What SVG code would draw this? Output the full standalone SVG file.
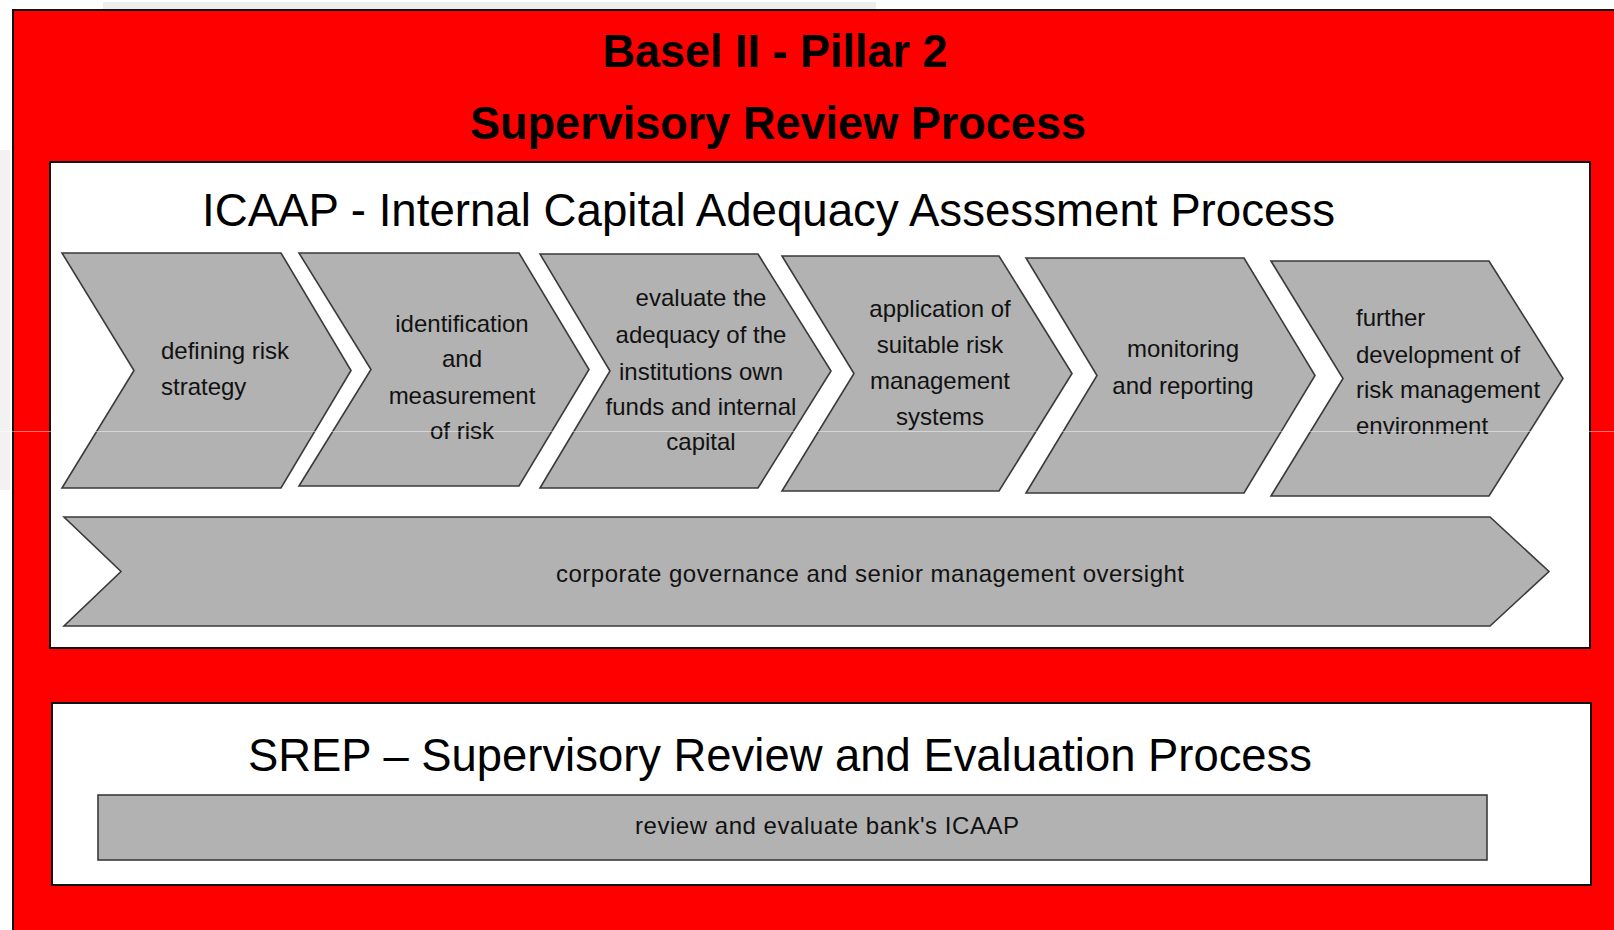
<svg xmlns="http://www.w3.org/2000/svg" width="1614" height="930" viewBox="0 0 1614 930">
<style>
.chev{fill:#b2b2b2;stroke:#3a3a3a;stroke-width:1.6;stroke-linejoin:miter}
.box{fill:#ffffff;stroke:#111;stroke-width:2}
.t{font-family:"Liberation Sans",Arial,sans-serif;font-size:24px;fill:#111}
.c{text-anchor:middle}
.big{font-family:"Liberation Sans",Arial,sans-serif;font-size:47px;fill:#000}
.ttl{font-family:"Liberation Sans",Arial,sans-serif;font-size:47px;font-weight:bold;fill:#000;text-anchor:middle}
</style>
<rect x="0" y="0" width="1614" height="930" fill="#ffffff"/>
<rect x="103" y="2" width="773" height="7" fill="#eeeeee"/>
<rect x="0" y="150" width="10" height="340" fill="#f2f2f2"/>
<g id="pillar2">
<rect x="13" y="10" width="1610" height="930" fill="#ff0000" stroke="#111" stroke-width="2"/>
<text class="ttl" x="775" y="67" textLength="345" lengthAdjust="spacingAndGlyphs">Basel II - Pillar 2</text>
<text class="ttl" x="778" y="139" textLength="616" lengthAdjust="spacingAndGlyphs">Supervisory Review Process</text>
</g>
<g id="icaap">
<rect class="box" x="50" y="162" width="1540" height="486"/>
<text class="big" x="202" y="226" textLength="1133" lengthAdjust="spacingAndGlyphs">ICAAP - Internal Capital Adequacy Assessment Process</text>
</g>
<g id="step1">
<polygon class="chev" points="62,253 281,253 351,370.5 281,488 62,488 134,370.5"/>
<text class="t" x="161" y="359">defining risk</text>
<text class="t" x="161" y="395">strategy</text>
</g>
<g id="step2">
<polygon class="chev" points="299,253 519,253 589,369.5 519,486 299,486 371,369.5"/>
<text class="t c" x="462" y="332">identification</text>
<text class="t c" x="462" y="367">and</text>
<text class="t c" x="462" y="404">measurement</text>
<text class="t c" x="462" y="439">of risk</text>
</g>
<g id="step3">
<polygon class="chev" points="540,254 758,254 831,371 758,488 540,488 610,371"/>
<text class="t c" x="701" y="306">evaluate the</text>
<text class="t c" x="701" y="343">adequacy of the</text>
<text class="t c" x="701" y="380">institutions own</text>
<text class="t c" x="701" y="415">funds and internal</text>
<text class="t c" x="701" y="450">capital</text>
</g>
<g id="step4">
<polygon class="chev" points="782,256 999,256 1072,373.5 999,491 782,491 854,373.5"/>
<text class="t c" x="940" y="317">application of</text>
<text class="t c" x="940" y="353">suitable risk</text>
<text class="t c" x="940" y="389">management</text>
<text class="t c" x="940" y="425">systems</text>
</g>
<g id="step5">
<polygon class="chev" points="1026,258 1244,258 1315,375.5 1244,493 1026,493 1097,375.5"/>
<text class="t c" x="1183" y="357">monitoring</text>
<text class="t c" x="1183" y="394">and reporting</text>
</g>
<g id="step6">
<polygon class="chev" points="1271,261 1489,261 1563,378.5 1489,496 1271,496 1343,378.5"/>
<text class="t" x="1356" y="326">further</text>
<text class="t" x="1356" y="363">development of</text>
<text class="t" x="1356" y="398">risk management</text>
<text class="t" x="1356" y="434">environment</text>
</g>
<g id="governance">
<polygon class="chev" points="64,517 1490,517 1549,571.5 1490,626 64,626 121,571.5"/>
<text class="t c" x="870" y="582" textLength="628" lengthAdjust="spacing">corporate governance and senior management oversight</text>
</g>
<g id="srep">
<rect class="box" x="52" y="703" width="1539" height="182"/>
<text class="big" x="248" y="771" textLength="1064" lengthAdjust="spacingAndGlyphs">SREP – Supervisory Review and Evaluation Process</text>
</g>
<g id="review">
<rect class="chev" x="98" y="795" width="1389" height="65"/>
<text class="t c" x="827" y="834" textLength="384" lengthAdjust="spacing">review and evaluate bank's ICAAP</text>
</g>
<g id="connectors"></g>
<line x1="0" y1="431.5" x2="1614" y2="431.5" stroke="#ffffff" stroke-opacity="0.45" stroke-width="1"/>
</svg>
